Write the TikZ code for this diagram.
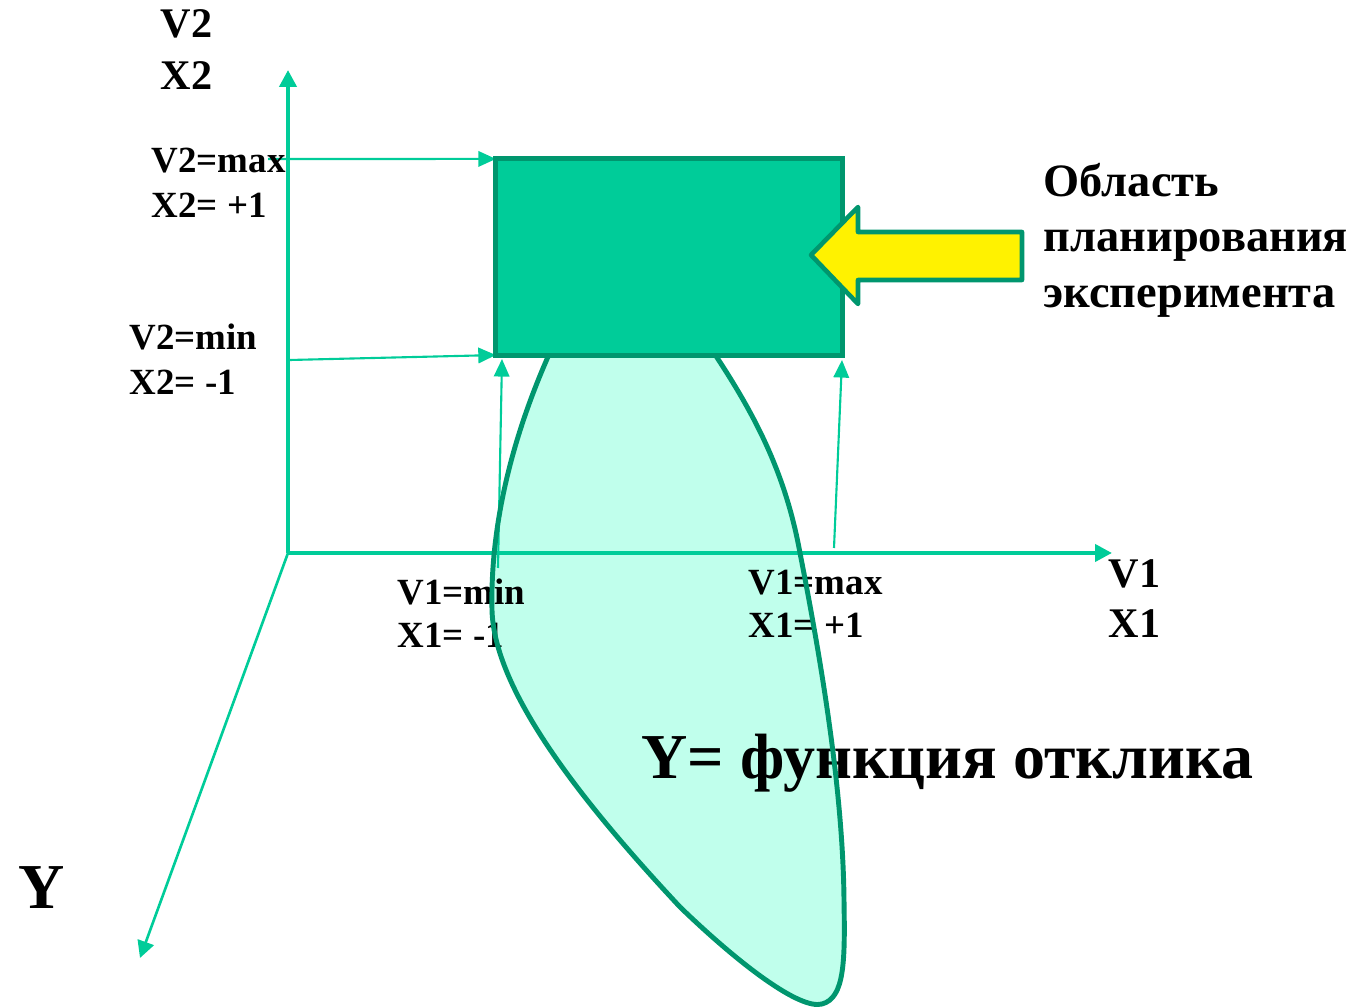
\documentclass[tikz,border=0pt]{standalone}
\usepackage{fontspec}
\setmainfont{Liberation Serif}
\usetikzlibrary{arrows.meta}

\definecolor{axisgreen}{RGB}{0,204,153}
\definecolor{edgegreen}{RGB}{0,150,110}
\definecolor{lensfill}{RGB}{192,255,236}

% outline of the response surface (pixel units, y downwards)
\newcommand{\lensoutline}{(551,350) .. controls (515,430) and (490,520) .. (492,610)
  .. controls (494,690) and (580,800) .. (680,907)
  .. controls (740,965) and (800,1010) .. (822,1004)
  .. controls (845,998) and (845,960) .. (844,900)
  .. controls (843,800) and (825,680) .. (800,553)
  .. controls (785,470) and (752,410) .. (712,350) -- cycle}

\begin{document}
\begin{tikzpicture}[
  x=0.01cm, y=-0.01cm,
  axis/.style={draw=axisgreen, line width=1.15pt, -{Triangle[length=4.8pt, width=4.8pt]}},
  guide/.style={draw=axisgreen, line width=0.6pt, -{Triangle[length=5pt, width=4.4pt]}},
  plan/.style={draw=edgegreen, fill=axisgreen, line width=1.4pt, minimum width=3.46cm, minimum height=1.96cm, inner sep=0pt, outer sep=0pt},
  pointer/.style={draw=edgegreen, fill=yellow, line width=1.3pt, line join=round},
  lbl/.style={font=\bfseries\fontsize{10.5}{12}\selectfont, inner sep=0pt, anchor=base west},
  axlbl/.style={font=\bfseries\fontsize{12}{14}\selectfont, inner sep=0pt, anchor=base west},
  title/.style={font=\bfseries\fontsize{13.2}{16}\selectfont, inner sep=0pt, anchor=base west},
  big/.style={font=\bfseries\fontsize{18.2}{20}\selectfont, inner sep=0pt, anchor=base west}
]
\useasboundingbox (0,0) rectangle (1360,1007);

% response surface, fill first
\fill[lensfill] \lensoutline;

% axes
\coordinate (O) at (288,553);
\coordinate (ytop) at (288,70);
\coordinate (xend) at (1112,553);
\coordinate (yend) at (140,958);
\draw[axis] (O) -- (ytop);
\draw[axis] (O) -- (xend);
\draw[axis, line width=0.75pt] (O) -- (yend);

% planning region
\node[plan] (plan) at (669,257) {};

% level lines
\coordinate (v2max) at (268,159);
\coordinate (v2min) at (290,360);
\coordinate (x1min) at (498,568);
\coordinate (x1mintop) at (502,359);
\coordinate (x1max) at (834,548);
\coordinate (x1maxtop) at (842,360);
\draw[guide] (v2max) -- (plan.north west);
\draw[guide] (v2min) -- (plan.south west);
\draw[guide] (x1min) -- (x1mintop);
\draw[guide] (x1max) -- (x1maxtop);

% labels
\node[axlbl] (v2) at (160,38) {V2};
\node[axlbl] (x2) at (160,90) {X2};
\node[axlbl] (v1) at (1108,588) {V1};
\node[axlbl] (x1) at (1108,638) {X1};
\node[lbl] (v2maxl) at (151,173) {V2=max};
\node[lbl] (x2maxl) at (151,218) {X2= +1};
\node[lbl] (v2minl) at (129,350) {V2=min};
\node[lbl] (x2minl) at (129,395) {X2= -1};
\node[lbl] (v1minl) at (397,605) {V1=min};
\node[lbl] (x1minl) at (397,648) {X1= -1};
\node[lbl] (v1maxl) at (748,595) {V1=max};
\node[lbl] (x1maxl) at (748,638) {X1= +1};
\node[title] (t1) at (1043,197) {Область};
\node[title] (t2) at (1043,252) {планирования};
\node[title] (t3) at (1043,308) {эксперимента};
\node[big] (resp) at (641,779) {Y= функция отклика};
\node[big] (ylbl) at (18,909) {Y};

% outline on top of the texts
\draw[edgegreen, line width=1.4pt] \lensoutline;
\node[plan] at (plan) {};

% arrow pointing at the region
\draw[pointer] (811,255) -- (858,207) -- (858,232) -- (1022,232) -- (1022,280) -- (858,280) -- (858,304) -- cycle;
\end{tikzpicture}
\end{document}
